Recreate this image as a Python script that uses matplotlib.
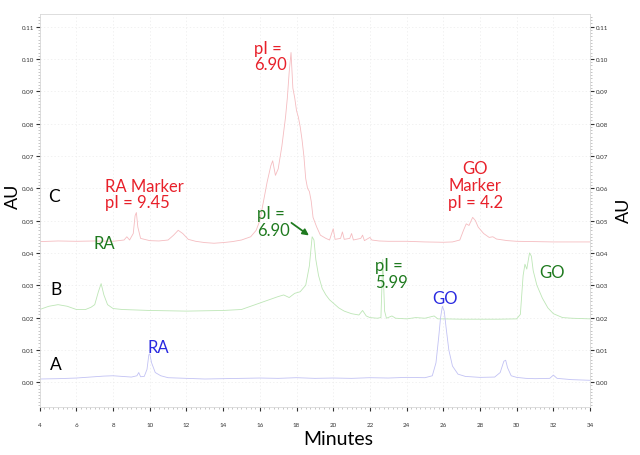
import matplotlib
matplotlib.use('Agg')
import matplotlib.pyplot as plt
from matplotlib.ticker import MultipleLocator
import numpy as np

plt.rcParams['font.family'] = ['Lato', 'DejaVu Sans']

# trace A (blue)
a_time = [4, 5, 6, 7, 7.5, 8, 8.5, 9, 9.3, 9.4, 9.5, 9.7, 9.85, 9.95, 10.0, 10.1, 10.3,
          10.6, 11, 12, 13, 14, 15, 16, 17, 18, 19, 20, 21, 22, 23, 24, 25, 25.4, 25.6,
          25.75, 25.85, 25.95, 26.05, 26.15, 26.3, 26.5, 26.8, 27.2, 28, 28.8, 29.1, 29.3,
          29.4, 29.5, 29.7, 30, 30.5, 31, 31.8, 32, 32.2, 33, 34]
a_au = [0.0010, 0.0011, 0.0013, 0.0017, 0.0019, 0.0020, 0.0018, 0.0016, 0.0020, 0.0030,
        0.0017, 0.0018, 0.0040, 0.0085, 0.0088, 0.0060, 0.0030, 0.0020, 0.0014, 0.0012,
        0.0010, 0.0011, 0.0012, 0.0013, 0.0012, 0.0014, 0.0012, 0.0013, 0.0012, 0.0014,
        0.0013, 0.0015, 0.0014, 0.0020, 0.0060, 0.0140, 0.0200, 0.0235, 0.0220, 0.0170,
        0.0100, 0.0050, 0.0025, 0.0018, 0.0015, 0.0016, 0.0030, 0.0065, 0.0068, 0.0045,
        0.0020, 0.0015, 0.0012, 0.0011, 0.0012, 0.0022, 0.0012, 0.0008, 0.0006]

# trace B (green)
b_time = [4, 4.5, 5, 5.5, 6, 6.5, 6.8, 7.0, 7.2, 7.35, 7.5, 7.7, 8, 8.5, 9, 10, 11, 12, 13,
          14, 15, 15.5, 16, 16.5, 17, 17.3, 17.6, 17.9, 18.2, 18.5, 18.7, 18.85, 18.95,
          19.05, 19.2, 19.4, 19.6, 19.8, 20.0, 20.3, 20.6, 21, 21.4, 21.6, 21.8, 22, 22.4,
          22.6, 22.7, 22.8, 22.9, 23.2, 23.4, 24, 24.5, 25, 25.5, 25.7, 26, 27, 28, 29, 30,
          30.2, 30.35, 30.45, 30.55, 30.7, 30.8, 30.9, 31.1, 31.4, 31.7, 32, 32.5, 33, 34]
b_au = [0.0225, 0.0235, 0.0240, 0.0235, 0.0225, 0.0225, 0.0232, 0.0240, 0.0280, 0.0305,
        0.0270, 0.0240, 0.0228, 0.0225, 0.0224, 0.0222, 0.0221, 0.0220, 0.0221, 0.0222,
        0.0225, 0.0235, 0.0245, 0.0255, 0.0265, 0.0270, 0.0262, 0.0275, 0.0280, 0.0300,
        0.0360, 0.0450, 0.0440, 0.0380, 0.0330, 0.0290, 0.0270, 0.0255, 0.0245, 0.0230,
        0.0220, 0.0212, 0.0208, 0.0222, 0.0205, 0.0200, 0.0198, 0.0200, 0.0380, 0.0220,
        0.0198, 0.0205, 0.0198, 0.0196, 0.0200, 0.0198, 0.0205, 0.0196, 0.0196, 0.0195,
        0.0195, 0.0195, 0.0196, 0.0210, 0.0330, 0.0365, 0.0350, 0.0400, 0.0390, 0.0345,
        0.0300, 0.0260, 0.0230, 0.0212, 0.0200, 0.0198, 0.0196]

# trace C (red)
c_time = [4, 5, 6, 7, 8, 8.6, 8.75, 8.9, 9.1, 9.2, 9.27, 9.35, 9.5, 10, 10.5, 11, 11.3,
          11.55, 11.8, 12.1, 12.5, 13, 13.5, 14, 14.5, 15, 15.5, 15.8, 16, 16.2, 16.4, 16.6,
          16.7, 16.85, 17.0, 17.2, 17.4, 17.5, 17.6, 17.7, 17.8, 17.9, 18.0, 18.1, 18.2,
          18.3, 18.4, 18.5, 18.6, 18.7, 18.8, 18.9, 19.1, 19.3, 19.6, 19.8, 20.0, 20.1,
          20.4, 20.5, 20.6, 20.9, 21.0, 21.1, 21.5, 21.6, 21.7, 22.0, 22.1, 22.5, 23, 24,
          25, 26, 26.5, 26.9, 27.1, 27.25, 27.4, 27.6, 27.75, 27.9, 28.2, 28.5, 28.7, 28.9,
          29.5, 30, 31, 32, 33, 34]
c_au = [0.0435, 0.0437, 0.0436, 0.0437, 0.0436, 0.0440, 0.0450, 0.0440, 0.0460, 0.0515,
        0.0525, 0.0480, 0.0445, 0.0438, 0.0437, 0.0440, 0.0455, 0.0470, 0.0460, 0.0442,
        0.0436, 0.0432, 0.0430, 0.0432, 0.0435, 0.0440, 0.0450, 0.0470, 0.0500, 0.0560,
        0.0620, 0.0670, 0.0685, 0.0640, 0.0660, 0.0730, 0.0820, 0.0880, 0.0960, 0.1020,
        0.0910, 0.0880, 0.0840, 0.0820, 0.0790, 0.0750, 0.0700, 0.0630, 0.0600, 0.0590,
        0.0560, 0.0510, 0.0480, 0.0455, 0.0445, 0.0440, 0.0475, 0.0442, 0.0445, 0.0465,
        0.0442, 0.0445, 0.0460, 0.0440, 0.0445, 0.0455, 0.0438, 0.0448, 0.0440, 0.0437,
        0.0436, 0.0436, 0.0434, 0.0433, 0.0434, 0.0440, 0.0470, 0.0490, 0.0485, 0.0510,
        0.0500, 0.0480, 0.0460, 0.0448, 0.0450, 0.0443, 0.0438, 0.0436, 0.0435, 0.0434,
        0.0434, 0.0434]

x_ticks = np.arange(4, 35, 2)
y_ticks = np.arange(0.0, 0.115, 0.01)

red_txt = '#e8202a'
green_txt = '#1f7a1f'
blue_txt = '#2a2ae0'

fig = plt.figure(figsize=(6.4, 4.56), dpi=100)
ax = fig.add_axes([0.062, 0.105, 0.860, 0.862])

# traces are drawn very pale in the original
ax.plot(c_time, c_au, color='#f5bcc0', lw=0.6)
ax.plot(b_time, b_au, color='#bde6b6', lw=0.6)
ax.plot(a_time, a_au, color='#c2c2f4', lw=0.6)

ax.set_xlim(4, 34)
ax.set_ylim(-0.0077, 0.1139)
ax.set_xticks(x_ticks)
ax.set_yticks(y_ticks)
ax.xaxis.set_minor_locator(MultipleLocator(0.25))
ax.yaxis.set_minor_locator(MultipleLocator(0.001))
ax.set_xticklabels([str(v) for v in x_ticks])
ax.set_yticklabels(['%.2f' % v for v in y_ticks])
ax.tick_params(which='major', labelsize=4.5, length=3, width=0.8, colors='#333333',
               right=True, labelright=True)
ax.tick_params(which='minor', length=1.2, width=0.4, colors='#999999', right=True)
ax.tick_params(axis='x', pad=8)
ax.tick_params(axis='y', pad=1)
ax.grid(True, which='major', color='#ececec', ls=(0, (2, 3)), lw=0.5)
for s in ax.spines.values():
    s.set_color('#d8d8d8')
    s.set_linewidth(0.6)

# axis titles placed as in the original (slightly off-centre)
fig.text(338 / 640, 1 - 440 / 456, 'Minutes', fontsize=14, ha='center', va='center')
fig.text(13 / 640, 1 - 196 / 456, 'AU', fontsize=13, rotation=90, ha='center', va='center')
fig.text(624 / 640, 1 - 210 / 456, 'AU', fontsize=13, rotation=90, ha='center', va='center')

# trace letters
ax.text(4.8, 0.0576, 'C', fontsize=12.5, ha='center', va='center')
ax.text(4.9, 0.0288, 'B', fontsize=12.5, ha='center', va='center')
ax.text(4.9, 0.0056, 'A', fontsize=12.5, ha='center', va='center')

ax.text(7.55, 0.0582, 'RA Marker\npI = 9.45', fontsize=12, color=red_txt,
        ha='left', va='center', linespacing=1.05)
ax.text(15.7, 0.1009, 'pI =\n6.90', fontsize=12, color=red_txt,
        ha='left', va='center', linespacing=1.05)
ax.text(27.75, 0.0610, 'GO\nMarker\npI = 4.2', fontsize=12, color=red_txt,
        ha='center', va='center', linespacing=1.05)

ax.text(7.55, 0.0430, 'RA', fontsize=12, color=green_txt, ha='center', va='center')
ax.text(15.85, 0.0498, 'pI =\n6.90', fontsize=12, color=green_txt,
        ha='left', va='center', linespacing=1.05)
ax.annotate('', xy=(18.8, 0.0449), xytext=(17.6, 0.0498),
            arrowprops=dict(arrowstyle='-|>', color=green_txt, lw=1.3, mutation_scale=9))
ax.text(22.3, 0.0337, 'pI =\n5.99', fontsize=12, color=green_txt,
        ha='left', va='center', linespacing=1.05)
ax.text(31.9, 0.0340, 'GO', fontsize=12, color=green_txt, ha='center', va='center')

ax.text(10.45, 0.0108, 'RA', fontsize=12, color=blue_txt, ha='center', va='center')
ax.text(26.1, 0.0260, 'GO', fontsize=12, color=blue_txt, ha='center', va='center')

fig.savefig('out.png', dpi=100)
